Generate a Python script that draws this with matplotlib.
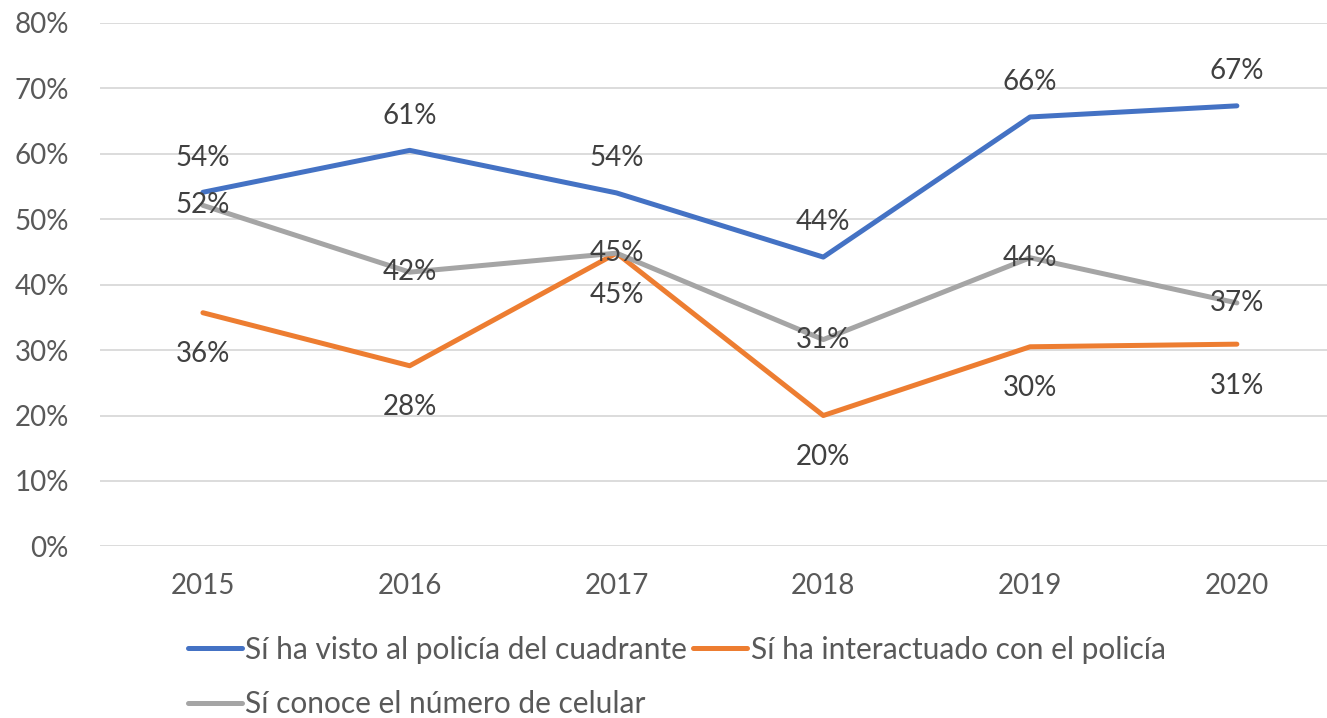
import matplotlib
matplotlib.use("Agg")
import matplotlib.pyplot as plt

plt.rcParams["font.family"] = ["Lato", "DejaVu Sans"]

YEARS = ["2015", "2016", "2017", "2018", "2019", "2020"]
SERIES_NAMES = [
    "Sí ha visto al policía del cuadrante",
    "Sí ha interactuado con el policía",
    "Sí conoce el número de celular",
]
VISTO = [0.541, 0.605, 0.540, 0.442, 0.656, 0.673]
INTERACTUADO = [0.357, 0.276, 0.448, 0.200, 0.305, 0.309]
CELULAR = [0.521, 0.419, 0.448, 0.316, 0.441, 0.372]
LABELS_VISTO = ["54%", "61%", "54%", "44%", "66%", "67%"]
LABELS_INTER = ["36%", "28%", "45%", "20%", "30%", "31%"]
LABELS_CEL = ["52%", "42%", "45%", "31%", "44%", "37%"]
Y_TICKS = [0, 0.1, 0.2, 0.3, 0.4, 0.5, 0.6, 0.7, 0.8]

COLORS = ["#4472C4", "#ED7D31", "#A5A5A5"]

fig = plt.figure(figsize=(13.27, 7.18), dpi=100)
ax = fig.add_axes([0.075, 0.2389, 0.935, 0.7295])

x = list(range(len(YEARS)))
series = [VISTO, INTERACTUADO, CELULAR]
labels = [LABELS_VISTO, LABELS_INTER, LABELS_CEL]
offsets = [25, -30, 0]  # points: above, below, centered
lines = []
for vals, name, col, labs, off in zip(series, SERIES_NAMES, COLORS, labels, offsets):
    (ln,) = ax.plot(x, vals, color=col, lw=3.6, solid_capstyle="round",
                    solid_joinstyle="round", label=name, zorder=3)
    lines.append(ln)
    for xi, v, t in zip(x, vals, labs):
        ax.annotate(t, (xi, v), xytext=(0, off), textcoords="offset points",
                    ha="center", va="center", fontsize=20, color="#404040",
                    zorder=5)

ax.set_xlim(-0.5, 5.5)
ax.set_ylim(0, 0.8)
ax.set_xticks(x)
ax.set_xticklabels(YEARS)
ax.set_yticks(Y_TICKS)
ax.set_yticklabels([f"{int(round(t * 100))}%" for t in Y_TICKS])
ax.grid(axis="y", color="#D9D9D9", lw=1.3, zorder=0)
ax.tick_params(axis="both", length=0, labelsize=20, labelcolor="#595959")
ax.tick_params(axis="x", pad=19)
ax.tick_params(axis="y", pad=22)
for s in ax.spines.values():
    s.set_visible(False)

handles = [lines[0], lines[2], lines[1]]
fig.legend(handles, [h.get_label() for h in handles], ncol=2,
           loc="upper left", bbox_to_anchor=(0.1417, 0.1145), frameon=False,
           fontsize=21.5, labelcolor="#595959", handlelength=1.8,
           handletextpad=0.12, columnspacing=0.2, labelspacing=0.88,
           borderpad=0, borderaxespad=0)

fig.savefig("out.png", dpi=100)
